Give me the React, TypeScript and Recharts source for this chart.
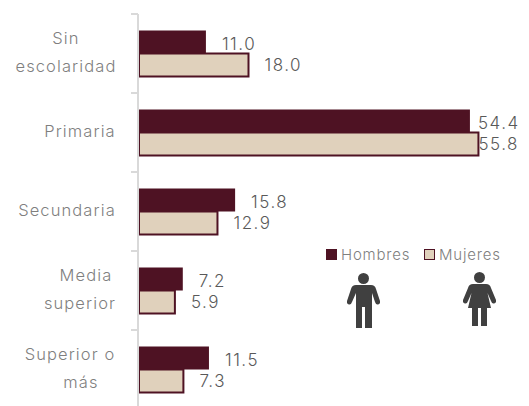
import { Bar, BarChart, LabelList, XAxis, YAxis } from "recharts";

const CATEGORIES = ["Sin escolaridad", "Primaria", "Secundaria", "Media superior", "Superior o más"];
const HOMBRES = [11.0, 54.4, 15.8, 7.2, 11.5];
const MUJERES = [18.0, 55.8, 12.9, 5.9, 7.3];
const TICK_LINES = [["Sin", "escolaridad"], ["Primaria"], ["Secundaria"], ["Media", "superior"], ["Superior o", "más"]];

const rows = CATEGORIES.map((category, i) => ({
  category,
  Hombres: HOMBRES[i],
  Mujeres: MUJERES[i],
}));

const FONT = "Inter, 'Noto Sans', sans-serif";
const TEXT = "#7f7f7f";
const WINE = "#4e1223";
const SAND = "#e0d1bc";
const AXIS = "#d9d9d9";
const PLOT_LEFT = 139;
const BAND = 79;

// horizontal centre of each tick label line, the source is not consistently aligned
const LINE_CENTRES = [[66, 66], [80], [67], [86, 80], [70, 81]];

function CategoryTick({ y, index }: any) {
  const lines = TICK_LINES[index];
  const top = y - (lines.length - 1) * 14;
  const last = index === CATEGORIES.length - 1;
  return (
    <g>
      <line x1={PLOT_LEFT - 1} x2={PLOT_LEFT - 1} y1={y - BAND / 2} y2={y + BAND / 2} stroke={AXIS} strokeWidth={2} />
      <line x1={PLOT_LEFT - 8} x2={PLOT_LEFT - 1} y1={y - BAND / 2} y2={y - BAND / 2} stroke={AXIS} strokeWidth={2} />
      {last && <line x1={PLOT_LEFT - 8} x2={PLOT_LEFT - 1} y1={y + BAND / 2} y2={y + BAND / 2} stroke={AXIS} strokeWidth={2} />}
      {lines.map((line, i) => (
        <text
          key={line}
          x={LINE_CENTRES[index][i]}
          y={top + i * 28}
          dy={4}
          textAnchor="middle"
          fontFamily={FONT}
          fontWeight={300}
          fontSize={16.5}
          letterSpacing={1.1}
          fill={TEXT}
        >
          {line}
        </text>
      ))}
    </g>
  );
}

function ValueLabel({ x, y, width, height, value, index, primariaGap, dy }: any) {
  // the Primaria bars run nearly to the labels, so they sit much closer there
  const gap = index === 1 ? primariaGap : 16;
  return (
    <text
      x={x + width + gap}
      y={y + height / 2}
      dy={dy}
      fontFamily={FONT}
      fontWeight={300}
      fontSize={17}
      letterSpacing={1.5}
      fill="#595959"
    >
      {Number(value).toFixed(1)}
    </text>
  );
}

function LegendRow() {
  const item = (label: string, fill: string, border: string, left: number) => (
    <span style={{ position: "absolute", left, top: 0, display: "inline-flex", alignItems: "center" }}>
      <span
        style={{
          width: 11,
          height: 11,
          boxSizing: "border-box",
          background: fill,
          border: `1.5px solid ${border}`,
          marginRight: 4,
        }}
      />
      {label}
    </span>
  );
  return (
    <div
      style={{
        position: "absolute",
        left: 326,
        top: 245,
        fontFamily: FONT,
        fontWeight: 300,
        fontSize: 15,
        letterSpacing: 0.8,
        color: TEXT,
        whiteSpace: "nowrap",
      }}
    >
      {item("Hombres", WINE, WINE, 0)}
      {item("Mujeres", SAND, WINE, 98)}
    </div>
  );
}

function ManIcon() {
  return (
    <svg width={33} height={56} viewBox="0 0 33 56" style={{ position: "absolute", left: 347, top: 273 }}>
      <circle cx={16.5} cy={5.5} r={5.5} fill="#404040" />
      <path
        d="M9 12 H24 Q28 12 29 16 L33 28 Q33.5 31 31 31.5 Q29 32 28 29 L25 20 V55 H18 V34 H15 V55 H9 V20 L5 29 Q4 32 2 31.5 Q-0.5 31 0 28 L4 16 Q5 12 9 12 Z"
        fill="#404040"
      />
    </svg>
  );
}

function WomanIcon() {
  return (
    <svg width={33} height={56} viewBox="0 0 33 56" style={{ position: "absolute", left: 463, top: 272 }}>
      <circle cx={16.5} cy={5.5} r={5.5} fill="#404040" />
      <path
        d="M10 12 H23 Q27 12 28 16 L33 28 Q33.5 31 31 31.5 Q29 32 28 29 L24.5 21 L28 36 H24 V54 H18 V36 H15 V54 H9 V36 H5 L8.5 21 L5 29 Q4 32 2 31.5 Q-0.5 31 0 28 L5 16 Q6 12 10 12 Z"
        fill="#404040"
      />
    </svg>
  );
}

export default function App() {
  return (
    <div style={{ position: "absolute", left: 0, top: 0, width: 529, height: 406, overflow: "hidden", background: "#fff" }}>
      <BarChart
        width={529}
        height={420}
        data={rows}
        layout="vertical"
        margin={{ top: 14, right: 25, bottom: 11, left: 0 }}
        barGap={0}
        barCategoryGap={16.5}
      >
        <XAxis type="number" domain={[0, 60]} hide />
        <YAxis
          type="category"
          dataKey="category"
          width={PLOT_LEFT}
          axisLine={false}
          tickLine={false}
          interval={0}
          tick={<CategoryTick />}
        />
        <Bar dataKey="Hombres" fill={WINE} isAnimationActive={false}>
          <LabelList dataKey="Hombres" content={<ValueLabel primariaGap={8} dy={8} />} />
        </Bar>
        <Bar dataKey="Mujeres" fill={SAND} stroke={WINE} strokeWidth={2} isAnimationActive={false}>
          <LabelList dataKey="Mujeres" content={<ValueLabel primariaGap={0} dy={6} />} />
        </Bar>
      </BarChart>
      <LegendRow />
      <ManIcon />
      <WomanIcon />
    </div>
  );
}
